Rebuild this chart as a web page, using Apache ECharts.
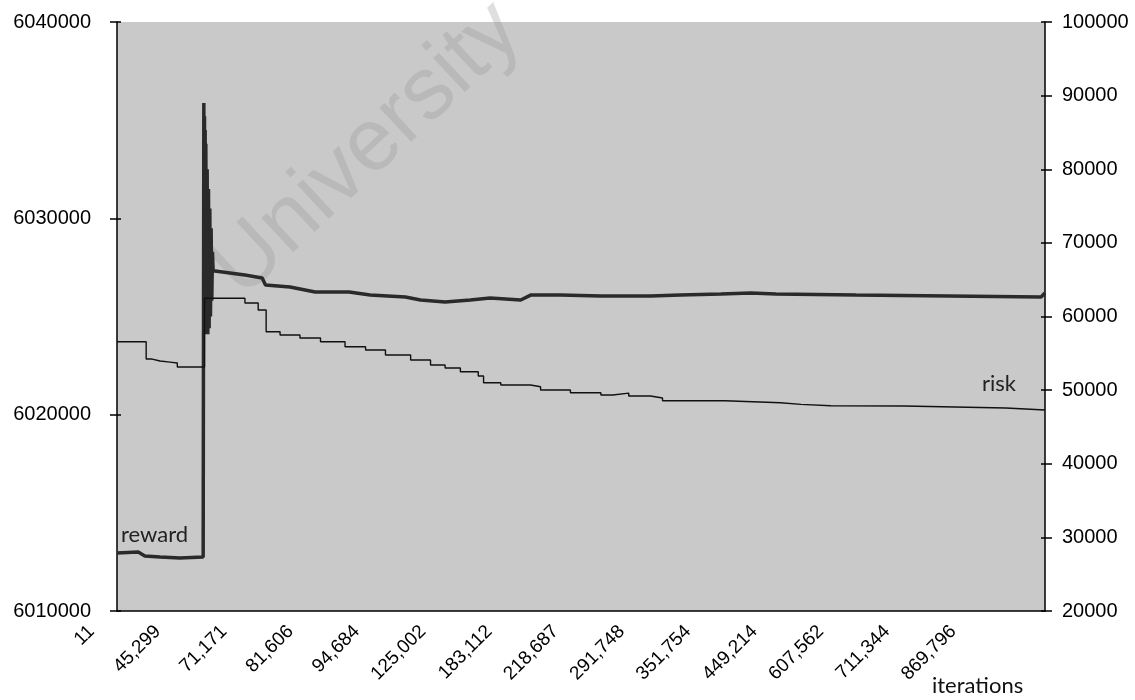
<!DOCTYPE html>
<html>
<head>
<meta charset="utf-8">
<title>reward and risk over iterations</title>
<script src="https://cdn.jsdelivr.net/npm/echarts@6/dist/echarts.min.js"></script>
<style>
  html, body { margin: 0; padding: 0; background: #ffffff; }
  #chart { width: 1135px; height: 700px; }
</style>
</head>
<body>
<div id="chart"></div>
<script>
// Iteration labels shown under the category positions 0..13
const tickLabels = ['11', '45,299', '71,171', '81,606', '94,684', '125,002', '183,112',
  '218,687', '291,748', '351,754', '449,214', '607,562', '711,344', '869,796'];

// Reward (left axis): position along the iteration axis and value
const rewardPos = [0, 0.32, 0.42, 0.65, 0.95, 1.30,
  1.31, 1.315, 1.32, 1.325, 1.33, 1.335, 1.34, 1.35, 1.36, 1.37, 1.38, 1.39, 1.40, 1.41,
  1.42, 1.43, 1.44, 1.45,
  1.93, 2.19, 2.24, 2.61, 2.99, 3.50, 3.82, 4.35, 4.58, 4.95,
  5.33, 5.63, 6.09, 6.12, 6.24, 6.69, 7.30, 8.05, 8.50, 9.11, 9.56, 9.94, 11.15, 11.16,
  13.94, 14];
const reward = [6012950, 6013000, 6012800, 6012750, 6012700, 6012750,
  6035870, 6024500, 6035200, 6024200, 6034500, 6024100, 6033800, 6024300, 6032500,
  6024100, 6031500, 6024400, 6030500, 6025000, 6029500, 6025800, 6028300, 6027330,
  6027110, 6026960, 6026600, 6026500, 6026250, 6026250, 6026090, 6025990, 6025840,
  6025740, 6025840, 6025940, 6025840, 6025740, 6026090, 6026090, 6026040, 6026040,
  6026090, 6026150, 6026200, 6026150, 6026090, 6025990, 6025990, 6026200];

// Risk (right axis): position along the iteration axis and value
const riskPos = [0, 0.44, 0.53, 0.65, 0.80, 0.91, 1.32, 1.93, 2.13, 2.25, 2.46, 2.76, 3.07,
  3.44, 3.75, 4.05, 4.43, 4.73, 4.95, 5.18, 5.45, 5.53, 5.79, 6.24, 6.39, 6.84, 7.30,
  7.48, 7.72, 8.05, 8.23, 9.17, 10.01, 10.32, 10.77, 11.87, 13.41, 14];
const risk = [56570, 54220, 53950, 53810, 53680, 53140, 62470, 61830, 60880, 57930, 57480,
  57070, 56570, 55890, 55440, 54770, 54090, 53410, 53000, 52500, 51910, 51000, 50690,
  50460, 50010, 49650, 49330, 49600, 49200, 48930, 48560, 48290, 48070, 47880, 47840,
  47570, 47300, 47300];

const rewardData = rewardPos.map((p, i) => [p, reward[i]]);
const riskData = riskPos.map((p, i) => [p, risk[i]]);

const numFont = 'Liberation Sans, Arial, sans-serif';
const textFont = 'Lato, "Open Sans", sans-serif';

function yAxisBase(pos, min, max, interval) {
  return {
    type: 'value', position: pos, min: min, max: max, interval: interval,
    splitLine: { show: false },
    axisLine: { show: true, lineStyle: { color: '#000', width: 1.5 } },
    axisTick: { show: true, length: 7, lineStyle: { color: '#000', width: 1.5 } },
    axisLabel: {
      color: '#000', fontFamily: numFont, fontSize: 20,
      margin: pos === 'left' ? 26 : 17,
      formatter: v => String(v)
    }
  };
}

// inner half of the crossing tick marks
function yAxisInnerTicks(pos, min, max, interval) {
  return {
    type: 'value', position: pos, min: min, max: max, interval: interval,
    splitLine: { show: false },
    axisLine: { show: false },
    axisTick: { show: true, inside: true, length: 4, lineStyle: { color: '#000', width: 1.5 } },
    axisLabel: { show: false }
  };
}

const chart = echarts.init(document.getElementById('chart'), null, { renderer: 'canvas' });

chart.setOption({
  animation: false,
  backgroundColor: '#ffffff',
  grid: {
    left: 117, right: 90, top: 22, bottom: 89,
    show: true, backgroundColor: '#c9c9c9', borderWidth: 0
  },
  xAxis: {
    type: 'value', min: 0, max: 14, interval: 1,
    splitLine: { show: false },
    axisLine: { show: true, lineStyle: { color: '#000', width: 1.5 } },
    axisTick: { show: false },
    axisLabel: {
      rotate: 45, margin: -8, padding: [0, 36, 0, 0],
      color: '#000', fontFamily: numFont, fontSize: 19,
      showMaxLabel: false,
      formatter: v => (tickLabels[v] !== undefined ? tickLabels[v] : '')
    }
  },
  yAxis: [
    yAxisBase('left', 6010000, 6040000, 10000),
    yAxisBase('right', 20000, 100000, 10000),
    yAxisInnerTicks('left', 6010000, 6040000, 10000),
    yAxisInnerTicks('right', 20000, 100000, 10000)
  ],
  graphic: [
    {
      type: 'text', z: 1, x: 367, y: 150, rotation: 43 * Math.PI / 180,
      style: {
        text: 'University', fontFamily: 'Liberation Sans, Arial, sans-serif',
        fontSize: 88, fill: 'rgba(150,150,150,0.3)',
        align: 'center', verticalAlign: 'middle'
      }
    },
    {
      type: 'text', z: 5, x: 121, y: 546,
      style: { text: 'reward', fontFamily: textFont, fontSize: 22, fill: '#222', verticalAlign: 'bottom' }
    },
    {
      type: 'text', z: 5, x: 982, y: 395,
      style: { text: 'risk', fontFamily: textFont, fontSize: 22, fill: '#222', verticalAlign: 'bottom' }
    },
    {
      type: 'text', z: 5, x: 932, y: 697,
      style: { text: 'iterations', fontFamily: textFont, fontSize: 22, fill: '#111', verticalAlign: 'bottom' }
    }
  ],
  series: [
    {
      name: 'reward', type: 'line', yAxisIndex: 0, data: rewardData,
      showSymbol: false, symbol: 'none', z: 3,
      lineStyle: { color: '#2a2a2a', width: 3.5 }
    },
    {
      name: 'risk', type: 'line', yAxisIndex: 1, data: riskData, step: 'end',
      showSymbol: false, symbol: 'none', z: 4,
      lineStyle: { color: '#111', width: 1.4 }
    }
  ]
});
</script>
</body>
</html>
